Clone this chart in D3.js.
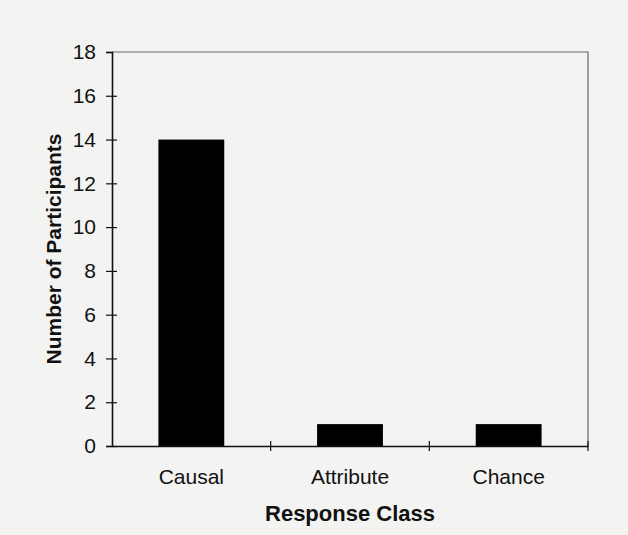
<!DOCTYPE html>
<html><head><meta charset="utf-8">
<script src="https://cdn.jsdelivr.net/npm/d3@7"></script>
<style>html,body{margin:0;padding:0;background:#f3f3f2;}svg{display:block;}</style>
</head><body>
<script>
const categories = ["Causal", "Attribute", "Chance"];
const values = [14, 1, 1];
const yTicks = [0, 2, 4, 6, 8, 10, 12, 14, 16, 18];

const W = 628, H = 535;
const m = {left: 112, right: 40, top: 52, bottom: 89};
const svg = d3.select("body").append("svg").attr("width", W).attr("height", H);
svg.append("rect").attr("width", W).attr("height", H).attr("fill", "#f3f3f2");

const x = d3.scaleBand().domain(categories).range([m.left, W - m.right]).paddingInner(0).paddingOuter(0);
const y = d3.scaleLinear().domain([0, 18]).range([H - m.bottom, m.top]);
const font = "'Liberation Sans', Arial, Helvetica, sans-serif";

// frame (top and right)
svg.append("path")
  .attr("d", `M${m.left},${m.top}H${W - m.right}V${H - m.bottom}`)
  .attr("fill", "none").attr("stroke", "#666").attr("stroke-width", 1.2);

// bars
const bw = x.bandwidth() * 0.415;
svg.selectAll("rect.bar").data(values).enter().append("rect")
  .attr("class", "bar")
  .attr("x", (d, i) => x(categories[i]) + x.bandwidth() / 2 - bw / 2)
  .attr("y", d => y(d))
  .attr("width", bw)
  .attr("height", d => y(0) - y(d))
  .attr("fill", "#000");

// y axis
const ya = svg.append("g").attr("transform", `translate(${m.left},0)`)
  .call(d3.axisLeft(y).tickValues(yTicks).tickSize(6).tickPadding(10));
ya.attr("font-size", null).attr("font-family", null);
ya.select(".domain").attr("stroke", "#111").attr("stroke-width", 1.6);
ya.selectAll(".tick line").attr("x1", -6).attr("x2", d => d === 18 ? 0 : 5).attr("stroke", "#111").attr("stroke-width", 1.2);
ya.selectAll(".tick text").attr("font-family", font).attr("font-size", 21).attr("fill", "#111");

// x axis
const xa = svg.append("g").attr("transform", `translate(0,${H - m.bottom})`)
  .call(d3.axisBottom(x).tickSize(0).tickPadding(23));
xa.attr("font-size", null).attr("font-family", null);
xa.select(".domain").attr("stroke", "#111").attr("stroke-width", 1.6);
xa.selectAll(".tick text").attr("font-family", font).attr("font-size", 21).attr("fill", "#111");
// boundary ticks between categories
const bounds = categories.slice(1).map(c => x(c)).concat([W - m.right]);
svg.selectAll("line.xt").data(bounds).enter().append("line")
  .attr("x1", d => d).attr("x2", d => d)
  .attr("y1", H - m.bottom - 5).attr("y2", H - m.bottom + 5)
  .attr("stroke", "#111").attr("stroke-width", 1.2);

// axis titles
svg.append("text")
  .attr("transform", `translate(61,${(m.top + H - m.bottom) / 2}) rotate(-90)`)
  .attr("text-anchor", "middle").attr("font-family", font).attr("font-weight", "bold")
  .attr("font-size", 21).attr("fill", "#111").text("Number of Participants");
svg.append("text")
  .attr("x", (m.left + W - m.right) / 2).attr("y", 521)
  .attr("text-anchor", "middle").attr("font-family", font).attr("font-weight", "bold")
  .attr("font-size", 22).attr("fill", "#111").text("Response Class");
</script>
</body></html>
